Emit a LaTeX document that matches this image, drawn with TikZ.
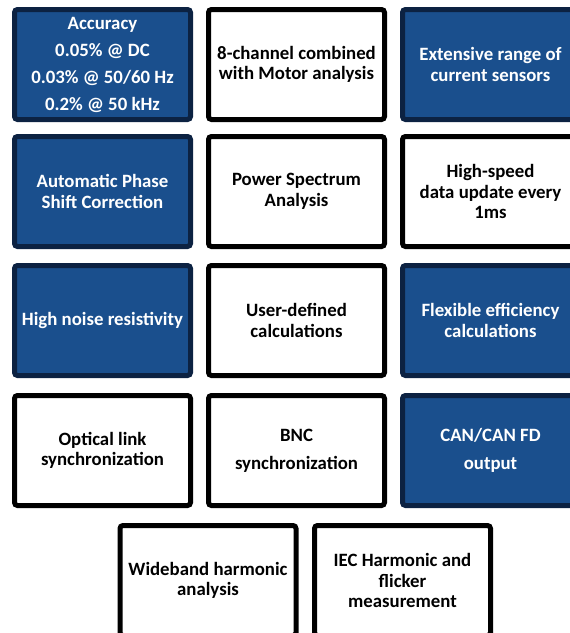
\documentclass[tikz,border=0pt]{standalone}
\usepackage{fontspec}
\setmainfont{Carlito}
\definecolor{boxblue}{HTML}{1A4F8D}
\definecolor{boxnavy}{HTML}{0C2242}
\begin{document}
\begin{tikzpicture}[x=1pt,y=-1pt,
  card/.style={rectangle, rounded corners=3pt, line width=5pt,
    minimum width=176pt, minimum height=110pt, inner sep=0pt,
    align=center, font=\fontsize{18.8}{20.5}\selectfont\bfseries},
  bluecard/.style={card, draw=boxnavy, fill=boxblue, text=white},
  whitecard/.style={card, draw=black, fill=white, text=black}]
\useasboundingbox (0,0) rectangle (570,633);
\clip (0,0) rectangle (570,633);
% row 1
\node[bluecard] (acc) at (102.5,64.5) {Accuracy\\[6.5pt]0.05\% @ DC\\[6.5pt]0.03\% @ 50/60 Hz\\[6.5pt]0.2\% @ 50 kHz};
\node[whitecard] (motor) at (296.5,64.5) {8-channel combined\\with Motor analysis};
\node[bluecard] (sens) at (490.5,64.5) {Extensive range of\\current sensors};
% row 2
\node[bluecard] (phase) at (102.5,191.5) {Automatic Phase\\Shift Correction};
\node[whitecard] (spec) at (296.5,191.5) {Power Spectrum\\Analysis};
\node[whitecard] (speed) at (490.5,191.5) {High-speed\\data update every\\1ms};
% row 3
\node[bluecard] (noise) at (102.5,320.5) {High noise resistivity};
\node[whitecard] (user) at (296.5,320.5) {User-defined\\calculations};
\node[bluecard] (eff) at (490.5,320.5) {Flexible efficiency\\calculations};
% row 4
\node[whitecard] (opt) at (102.5,450.5) {Optical link\\synchronization};
\node[whitecard] (bnc) at (296.5,450.5) {BNC\\[7.5pt]synchronization};
\node[bluecard] (can) at (490.5,450.5) {CAN/CAN FD\\[7.5pt]output};
% row 5
\node[whitecard] (wide) at (208,580.5) {Wideband harmonic\\analysis};
\node[whitecard] (iec) at (402.5,580.5) {IEC Harmonic and\\flicker\\measurement};
\end{tikzpicture}
\end{document}
